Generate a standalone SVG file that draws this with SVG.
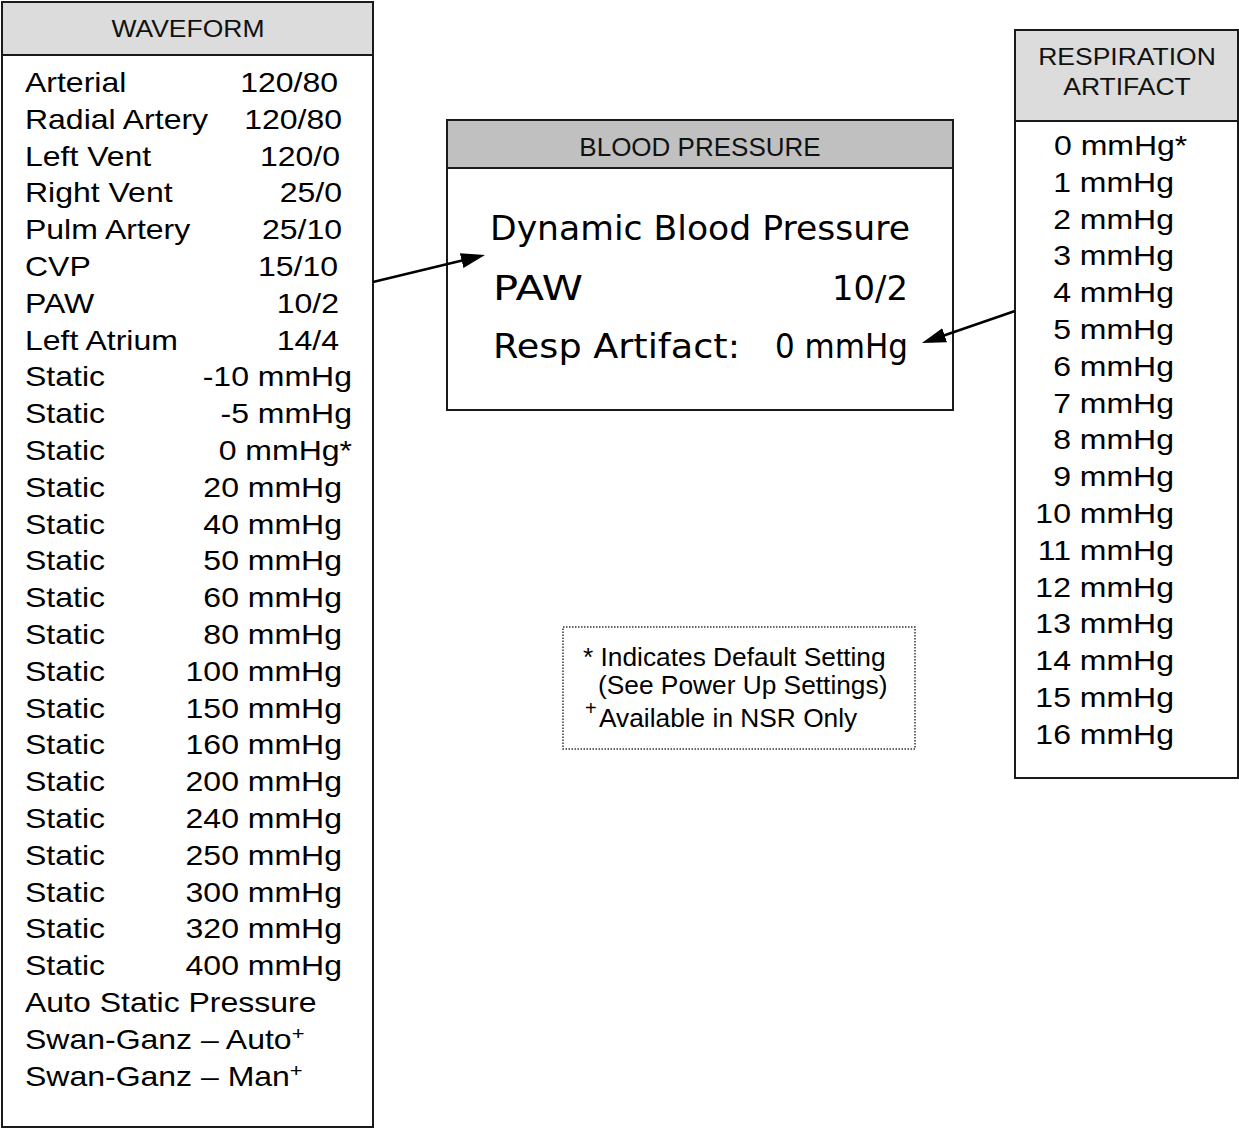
<svg xmlns="http://www.w3.org/2000/svg" width="1239" height="1130" viewBox="0 0 1239 1130">
<style>
.box{fill:#fff;stroke:#1a1a1a;stroke-width:2}
.hdr{stroke:#1a1a1a;stroke-width:2}
.t{font-family:"Liberation Sans",Arial,sans-serif;font-size:32px;fill:#000}
.h{font-family:"Liberation Sans",Arial,sans-serif;font-size:26.5px;fill:#111;text-anchor:middle}
.e{text-anchor:end}
.lcd{font-family:"DejaVu Sans","Liberation Sans",sans-serif;font-size:34px;fill:#000}
.lg{font-family:"Liberation Sans",Arial,sans-serif;font-size:26.3px;fill:#000}
.sup{font-size:22px}
.conn{stroke:#000;stroke-width:2.5;fill:none;marker-end:url(#arr)}
</style>
<defs>
<marker id="arr" markerUnits="userSpaceOnUse" markerWidth="26" markerHeight="16" refX="10" refY="7.5" orient="auto">
<path d="M0,0 L24,7.5 L0,15 z" fill="#000"/>
</marker>
</defs>

<g id="waveform">
<rect class="box" x="2" y="2" width="371" height="1125"/>
<rect class="hdr" x="2" y="2" width="371" height="53" fill="#dcdcdc"/>
<g transform="scale(1,0.875)">
<text class="h" x="188" y="42.3">WAVEFORM</text>
<text class="t" x="25" y="105.1">Arterial</text><text class="t e" x="338" y="105.1">120/80</text>
<text class="t" x="25" y="147.2">Radial Artery</text><text class="t e" x="342" y="147.2">120/80</text>
<text class="t" x="25" y="189.3">Left Vent</text><text class="t e" x="340" y="189.3">120/0</text>
<text class="t" x="25" y="231.3">Right Vent</text><text class="t e" x="342" y="231.3">25/0</text>
<text class="t" x="25" y="273.4">Pulm Artery</text><text class="t e" x="342" y="273.4">25/10</text>
<text class="t" x="25" y="315.4">CVP</text><text class="t e" x="338" y="315.4">15/10</text>
<text class="t" x="25" y="357.5">PAW</text><text class="t e" x="339" y="357.5">10/2</text>
<text class="t" x="25" y="399.5">Left Atrium</text><text class="t e" x="339" y="399.5">14/4</text>
<text class="t" x="25" y="441.6">Static</text><text class="t e" x="352" y="441.6">-10 mmHg</text>
<text class="t" x="25" y="483.7">Static</text><text class="t e" x="352" y="483.7">-5 mmHg</text>
<text class="t" x="25" y="525.7">Static</text><text class="t e" x="352" y="525.7">0 mmHg*</text>
<text class="t" x="25" y="567.8">Static</text><text class="t e" x="342" y="567.8">20 mmHg</text>
<text class="t" x="25" y="609.8">Static</text><text class="t e" x="342" y="609.8">40 mmHg</text>
<text class="t" x="25" y="651.9">Static</text><text class="t e" x="342" y="651.9">50 mmHg</text>
<text class="t" x="25" y="693.9">Static</text><text class="t e" x="342" y="693.9">60 mmHg</text>
<text class="t" x="25" y="736.0">Static</text><text class="t e" x="342" y="736.0">80 mmHg</text>
<text class="t" x="25" y="778.1">Static</text><text class="t e" x="342" y="778.1">100 mmHg</text>
<text class="t" x="25" y="820.1">Static</text><text class="t e" x="342" y="820.1">150 mmHg</text>
<text class="t" x="25" y="862.2">Static</text><text class="t e" x="342" y="862.2">160 mmHg</text>
<text class="t" x="25" y="904.2">Static</text><text class="t e" x="342" y="904.2">200 mmHg</text>
<text class="t" x="25" y="946.3">Static</text><text class="t e" x="342" y="946.3">240 mmHg</text>
<text class="t" x="25" y="988.3">Static</text><text class="t e" x="342" y="988.3">250 mmHg</text>
<text class="t" x="25" y="1030.4">Static</text><text class="t e" x="342" y="1030.4">300 mmHg</text>
<text class="t" x="25" y="1072.5">Static</text><text class="t e" x="342" y="1072.5">320 mmHg</text>
<text class="t" x="25" y="1114.5">Static</text><text class="t e" x="342" y="1114.5">400 mmHg</text>
<text class="t" x="25" y="1156.6">Auto Static Pressure</text>
<text class="t" x="25" y="1198.6">Swan-Ganz – Auto<tspan class="sup" dy="-10">+</tspan></text>
<text class="t" x="25" y="1240.7">Swan-Ganz – Man<tspan class="sup" dy="-10">+</tspan></text>
</g>
</g>

<g id="blood-pressure">
<rect class="box" x="447" y="120" width="506" height="290"/>
<rect class="hdr" x="447" y="120" width="506" height="48" fill="#c0c0c0"/>
<text class="h" x="700" y="156" style="font-size:26px">BLOOD PRESSURE</text>
<text class="lcd" x="490" y="240" textLength="420" lengthAdjust="spacingAndGlyphs">Dynamic Blood Pressure</text>
<text class="lcd" x="493" y="300" textLength="90" lengthAdjust="spacingAndGlyphs">PAW</text>
<text class="lcd" x="832" y="300" textLength="76" lengthAdjust="spacingAndGlyphs">10/2</text>
<text class="lcd" x="493" y="358" textLength="247" lengthAdjust="spacingAndGlyphs">Resp Artifact:</text>
<text class="lcd" x="775" y="358" textLength="133" lengthAdjust="spacingAndGlyphs">0 mmHg</text>
</g>

<g id="respiration-artifact">
<rect class="box" x="1015" y="30" width="223" height="748"/>
<rect class="hdr" x="1015" y="30" width="223" height="91" fill="#dcdcdc"/>
<g transform="scale(1,0.875)">
<text class="h" x="1127" y="74.3">RESPIRATION</text>
<text class="h" x="1127" y="108.6">ARTIFACT</text>
<text class="t" x="1054" y="177.1">0 mmHg*</text>
<text class="t e" x="1174" y="219.2">1 mmHg</text>
<text class="t e" x="1174" y="261.3">2 mmHg</text>
<text class="t e" x="1174" y="303.3">3 mmHg</text>
<text class="t e" x="1174" y="345.4">4 mmHg</text>
<text class="t e" x="1174" y="387.4">5 mmHg</text>
<text class="t e" x="1174" y="429.5">6 mmHg</text>
<text class="t e" x="1174" y="471.5">7 mmHg</text>
<text class="t e" x="1174" y="513.6">8 mmHg</text>
<text class="t e" x="1174" y="555.7">9 mmHg</text>
<text class="t e" x="1174" y="597.7">10 mmHg</text>
<text class="t e" x="1174" y="639.8">11 mmHg</text>
<text class="t e" x="1174" y="681.8">12 mmHg</text>
<text class="t e" x="1174" y="723.9">13 mmHg</text>
<text class="t e" x="1174" y="766.0">14 mmHg</text>
<text class="t e" x="1174" y="808.0">15 mmHg</text>
<text class="t e" x="1174" y="850.1">16 mmHg</text>
</g>
</g>

<g id="legend">
<rect x="563" y="627" width="352" height="122" fill="#fff" stroke="#333" stroke-width="1.5" stroke-dasharray="1.5,1.5"/>
<text class="lg" x="583" y="666">* Indicates Default Setting</text>
<text class="lg" x="598" y="694">(See Power Up Settings)</text>
<text class="lg" x="585" y="715" style="font-size:20px">+</text>
<text class="lg" x="599" y="727">Available in NSR Only</text>
</g>

<g id="connectors">
<line class="conn" x1="373" y1="282" x2="471.4" y2="258.3"/>
<line class="conn" x1="1015" y1="311" x2="935.2" y2="338.5"/>
</g>
</svg>
